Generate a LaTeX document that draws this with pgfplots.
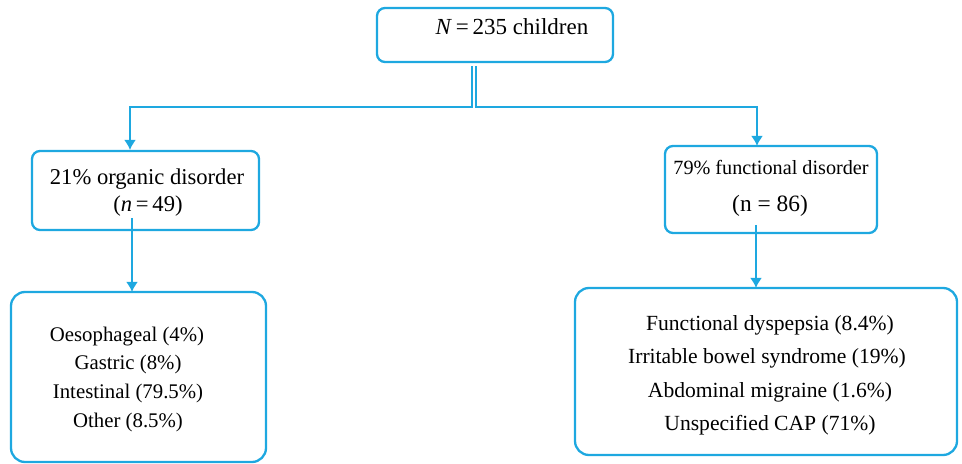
\documentclass[border=0pt]{standalone}
\usepackage{pgfplots}
\pgfplotsset{compat=1.18}
\usepackage{fontspec}
\setmainfont{Liberation Serif}
\usetikzlibrary{arrows.meta}
\definecolor{flow}{RGB}{30,168,224}
\begin{document}
\begin{tikzpicture}
\begin{axis}[
  width=481pt, height=232pt, scale only axis,
  xmin=0, xmax=962, ymin=0, ymax=464, y dir=reverse,
  hide axis, clip=false,
]
\path (axis cs:0,0) rectangle (axis cs:962,464);

% boxes
\draw[flow, line width=1.15pt, rounded corners=4pt] (axis cs:377,8) rectangle (axis cs:613,62);
\draw[flow, line width=1.15pt, rounded corners=4pt] (axis cs:32,151) rectangle (axis cs:259,230);
\draw[flow, line width=1.15pt, rounded corners=4pt] (axis cs:665,146) rectangle (axis cs:877,233);
\draw[flow, line width=1.15pt, rounded corners=7pt] (axis cs:11,292) rectangle (axis cs:266,462);
\draw[flow, line width=1.15pt, rounded corners=7pt] (axis cs:575,288) rectangle (axis cs:957,455);

% connectors
\addplot[flow, line width=1.15pt, -{Latex[length=5pt,width=6pt]}] coordinates {(472,66) (472,107) (130,107) (130,150)};
\addplot[flow, line width=1.15pt, -{Latex[length=5pt,width=6pt]}] coordinates {(476,66) (476,107) (757,107) (757,146)};
\addplot[flow, line width=1.15pt, -{Latex[length=5pt,width=6pt]}] coordinates {(132,218) (132,292)};
\addplot[flow, line width=1.15pt, -{Latex[length=5pt,width=6pt]}] coordinates {(756,225) (756,288)};

% text
\node[anchor=base, font=\fontsize{11.5}{13}\selectfont] at (axis cs:512,35) {\textit{N}\,=\,235 children};

\node[anchor=base, font=\fontsize{11.3}{13}\selectfont] at (axis cs:147,185) {21\% organic disorder};
\node[anchor=base, font=\fontsize{11.3}{13}\selectfont] at (axis cs:148,212) {(\textit{n}\,=\,49)};

\node[anchor=base, font=\fontsize{10.1}{12}\selectfont] at (axis cs:771,175) {79\% functional disorder};
\node[anchor=base, font=\fontsize{11.7}{13}\selectfont] at (axis cs:770,212) {(n = 86)};

\node[anchor=base, font=\fontsize{10.4}{12}\selectfont] at (axis cs:127,341) {Oesophageal (4\%)};
\node[anchor=base, font=\fontsize{10.4}{12}\selectfont] at (axis cs:128,369) {Gastric (8\%)};
\node[anchor=base, font=\fontsize{10.4}{12}\selectfont] at (axis cs:128,398) {Intestinal (79.5\%)};
\node[anchor=base, font=\fontsize{10.4}{12}\selectfont] at (axis cs:128,427) {Other (8.5\%)};

\node[anchor=base, font=\fontsize{10.8}{12}\selectfont] at (axis cs:770,330) {Functional dyspepsia (8.4\%)};
\node[anchor=base, font=\fontsize{10.8}{12}\selectfont] at (axis cs:767,363) {Irritable bowel syndrome (19\%)};
\node[anchor=base, font=\fontsize{10.8}{12}\selectfont] at (axis cs:770,397) {Abdominal migraine (1.6\%)};
\node[anchor=base, font=\fontsize{10.8}{12}\selectfont] at (axis cs:770,430) {Unspecified CAP (71\%)};
\end{axis}
\end{tikzpicture}
\end{document}
